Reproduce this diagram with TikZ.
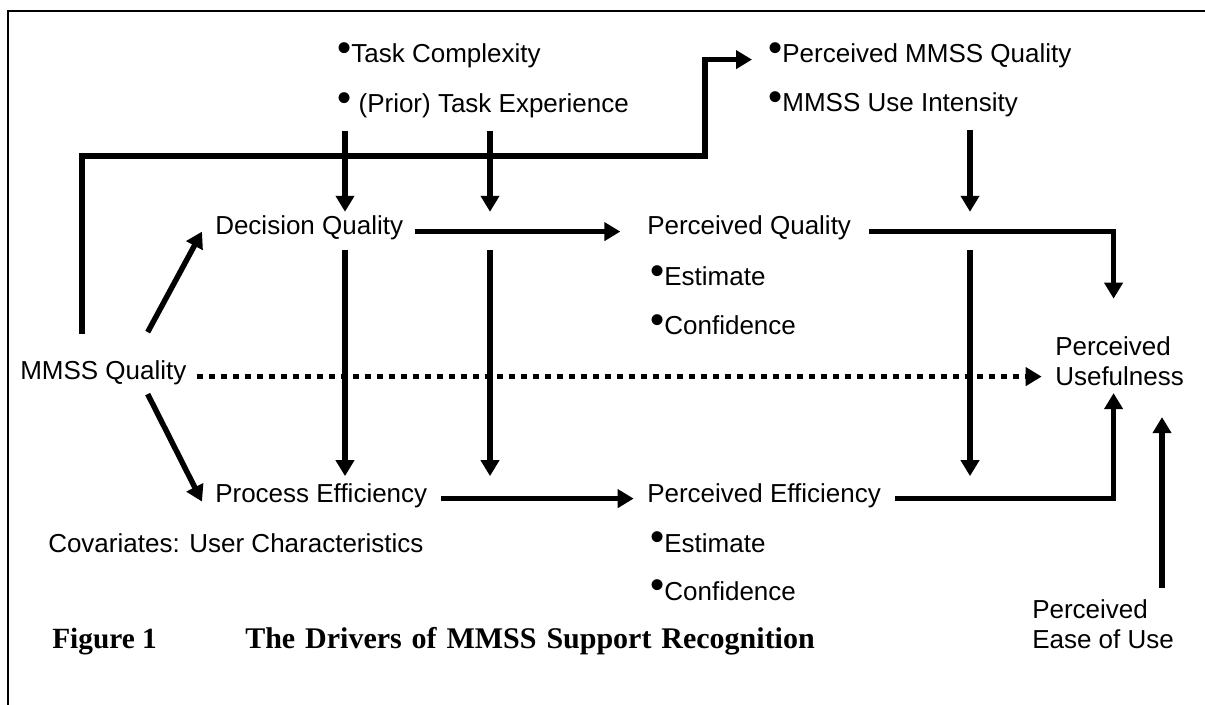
\documentclass[tikz,border=0pt]{standalone}
\usepackage{fontspec}
\setmainfont{Liberation Sans}
\newfontfamily\capfont{Liberation Serif}
\usetikzlibrary{arrows.meta}

% chấm đầu dòng
\newcommand{\bul}{\raisebox{.05em}{\scalebox{1.55}{•}}}

\begin{document}
\begin{tikzpicture}[x=0.75pt, y=-0.75pt, line cap=butt,
	>={Triangle[length=12pt, width=13.5pt]},
	lbl/.style={anchor=base west, inner sep=0pt, font=\fontsize{19.5}{22.5}\selectfont},
	item/.style={lbl, text height=.72em, text depth=.21em},
	twoline/.style={lbl, anchor=north west, align=left},
	caption/.style={anchor=base west, inner sep=0pt, font=\capfont\bfseries\fontsize{22}{24}\selectfont},
	arr/.style={->, line width=4.1pt},
	dots/.style={->, line width=4.1pt, dash pattern=on 4.9pt off 4.1pt}]
	\useasboundingbox (0,0) rectangle (1205,705);
	% Khung
	\draw[line width=1.5pt] (8,705) -- (8,11) -- (1205,11);

	% Nhãn phía trên
	\node[item] (tc)  at (337,63)  {\bul Task Complexity};
	\node[item] (pte) at (337,113) {\bul\ (Prior) Task Experience};
	\node[item] (pmq) at (768,63)  {\bul Perceived MMSS Quality};
	\node[item] (mui) at (768,112) {\bul MMSS Use Intensity};

	% Hàng giữa
	\node[item] (dq)  at (215,235) {Decision Quality};
	\node[item] (pq)  at (647,235) {Perceived Quality};
	\node[item] (pqe) at (650,286) {\bul Estimate};
	\node[item] (pqc) at (650,335) {\bul Confidence};
	\node[item] (mq)  at (20,380)  {MMSS Quality};
	\node[twoline] (pu) at (1055,336) {Perceived\\Usefulness};

	% Hàng dưới
	\node[item] (pe)  at (215,502) {Process Efficiency};
	\node[item] (pef) at (647,502) {Perceived Efficiency};
	\node[item] (pee) at (650,552) {\bul Estimate};
	\node[item] (pec) at (650,600) {\bul Confidence};
	\node[item] (cov) at (48,552)  {Covariates: User Characteristics};
	\node[twoline] (peu) at (1032,599) {Perceived\\Ease of Use};

	% Chú thích hình
	\node[caption] (fig)   at (52,648)  {Figure 1};
	\node[caption, font=\capfont\bfseries\fontsize{22.5}{24}\selectfont] (title) at (245,648)
		{\spaceskip=.33em The Drivers of MMSS Support Recognition};

	% Các cột của mũi tên dọc
	\coordinate (colQ) at (82,0);
	\coordinate (colA) at (345,0);
	\coordinate (colB) at (490,0);
	\coordinate (colC) at (970,0);
	\coordinate (colE) at (1162,0);
	\coordinate (bend) at (705,156);

	% Mũi tên gấp lên trên
	\draw[arr, shorten <=27pt, shorten >=12pt] (colQ |- mq.north) |- (bend) |- (pmq.west);

	% Mũi tên điều tiết
	\draw[arr, shorten <=11pt, shorten >=10pt] (colA |- pte.south) -- (colA |- dq.north);
	\draw[arr, shorten <=11pt, shorten >=10pt] (colB |- pte.south) -- (colB |- dq.north);
	\draw[arr, shorten <=11pt, shorten >=10pt] (colC |- mui.south) -- (colC |- pq.north);
	\draw[arr, shorten <=9pt, shorten >=12pt] (colA |- dq.south) -- (colA |- pe.north);
	\draw[arr, shorten <=9pt, shorten >=12pt] (colB |- dq.south) -- (colB |- pe.north);
	\draw[arr, shorten <=9pt, shorten >=12pt] (colC |- pq.south) -- (colC |- pef.north);

	% Mũi tên chính
	\draw[arr] ([shift={(-39,-38)}]mq.north east) -- ([shift={(-13,0)}]dq.west);
	\draw[arr] ([shift={(-39,11)}]mq.south east) -- ([shift={(-13,3)}]pe.west);
	\draw[arr, shorten <=9pt, shorten >=20pt] (dq.east) -- (pq.west);
	\draw[arr, shorten <=10pt, shorten >=10pt] (pe.east) -- (pef.west);
	\draw[arr, shorten <=13.5pt, shorten >=28pt] (pq.east) -| ([shift={(-6,0)}]pu.north);
	\draw[arr, shorten <=10pt, shorten >=5.6pt] (pef.east) -| ([shift={(-6,0)}]pu.south);
	\draw[arr, shorten <=8pt, shorten >=23.6pt] (colE |- peu.north) -- (colE |- pu.south);

	% Đường chấm
	\draw[dots, shorten <=7.5pt, shorten >=10pt] (mq.east) -- (mq.east -| pu.west);
\end{tikzpicture}
\end{document}
